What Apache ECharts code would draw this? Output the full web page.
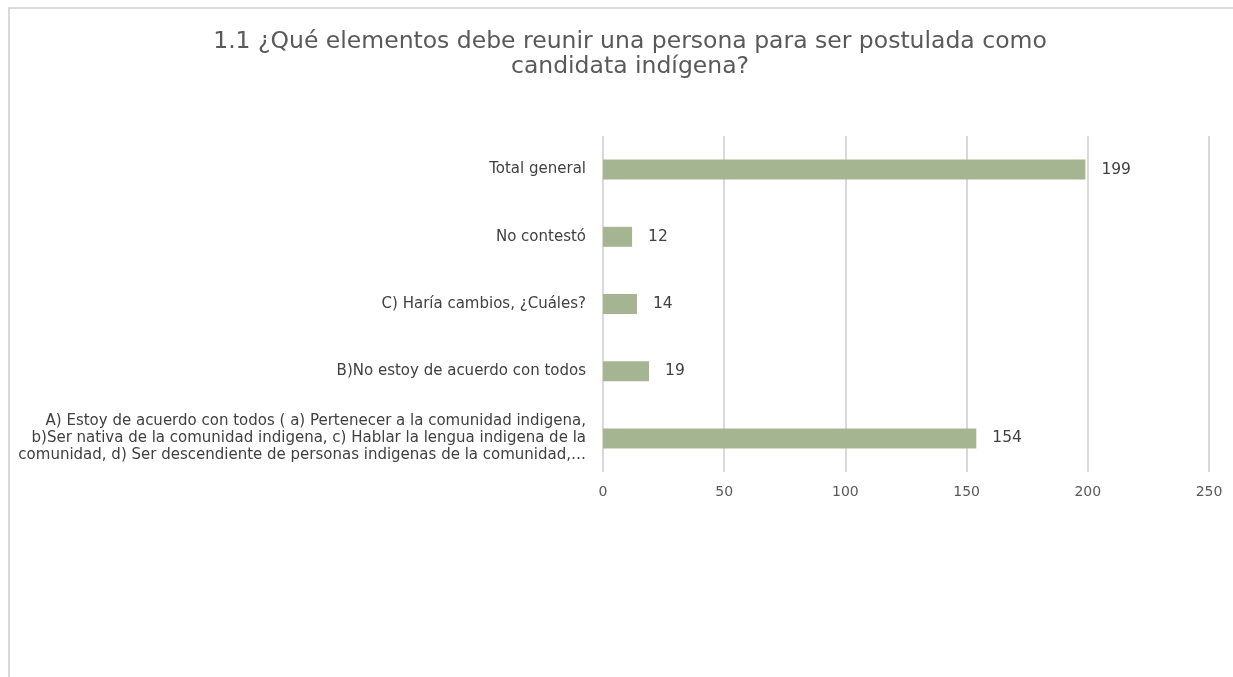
<!DOCTYPE html>
<html>
<head>
<meta charset="utf-8">
<script src="https://cdn.jsdelivr.net/npm/echarts@6/dist/echarts.min.js"></script>
<style>
  html, body { margin: 0; padding: 0; background: #fff; }
  #chart { width: 1233px; height: 677px; }
</style>
</head>
<body>
<div id="chart"></div>
<script>
const categories = [
  'A) Estoy de acuerdo con todos ( a) Pertenecer a la comunidad indigena,\nb)Ser nativa de la comunidad indigena, c) Hablar la lengua indigena de la\ncomunidad, d) Ser descendiente de personas indigenas de la comunidad,…',
  'B)No estoy de acuerdo con todos',
  'C) Haría cambios, ¿Cuáles?',
  'No contestó',
  'Total general'
]
const values = [154, 19, 14, 12, 199]
const xTicks = [0, 50, 100, 150, 200, 250]

const chart = echarts.init(document.getElementById('chart'))

const option = {
  backgroundColor: '#fff',
  textStyle: { fontFamily: 'DejaVu Sans, sans-serif' },
  title: {
    text: '1.1 ¿Qué elementos debe reunir una persona para ser postulada como\ncandidata indígena?',
    left: 625,
    top: 24,
    textAlign: 'center',
    textStyle: {
      color: '#595959',
      fontSize: 23.5,
      fontWeight: 'normal',
      lineHeight: 25
    }
  },
  graphic: [{
    type: 'rect',
    shape: { x: 9, y: 8, width: 1240, height: 690 },
    style: { fill: 'none', stroke: '#d9d9d9', lineWidth: 2 },
    silent: true
  }],
  grid: {
    left: 603,
    right: 24,
    top: 136,
    bottom: 205
  },
  xAxis: {
    type: 'value',
    min: xTicks[0],
    max: xTicks[xTicks.length - 1],
    interval: 50,
    axisLine: { show: false },
    axisTick: { show: false },
    axisLabel: { color: '#595959', fontSize: 14, margin: 13 },
    splitLine: { lineStyle: { color: '#d9d9d9', width: 2 } }
  },
  yAxis: {
    type: 'category',
    data: categories,
    axisLine: { show: false },
    axisTick: { show: false },
    axisLabel: {
      color: '#404040',
      fontSize: 15,
      margin: 17,
      lineHeight: 17,
      align: 'right'
    }
  },
  series: [{
    type: 'bar',
    data: values,
    barWidth: 20,
    itemStyle: { color: '#a5b592' },
    label: {
      show: true,
      position: 'right',
      distance: 16,
      color: '#404040',
      fontSize: 15.5
    }
  }]
}

chart.setOption(option)
</script>
</body>
</html>
